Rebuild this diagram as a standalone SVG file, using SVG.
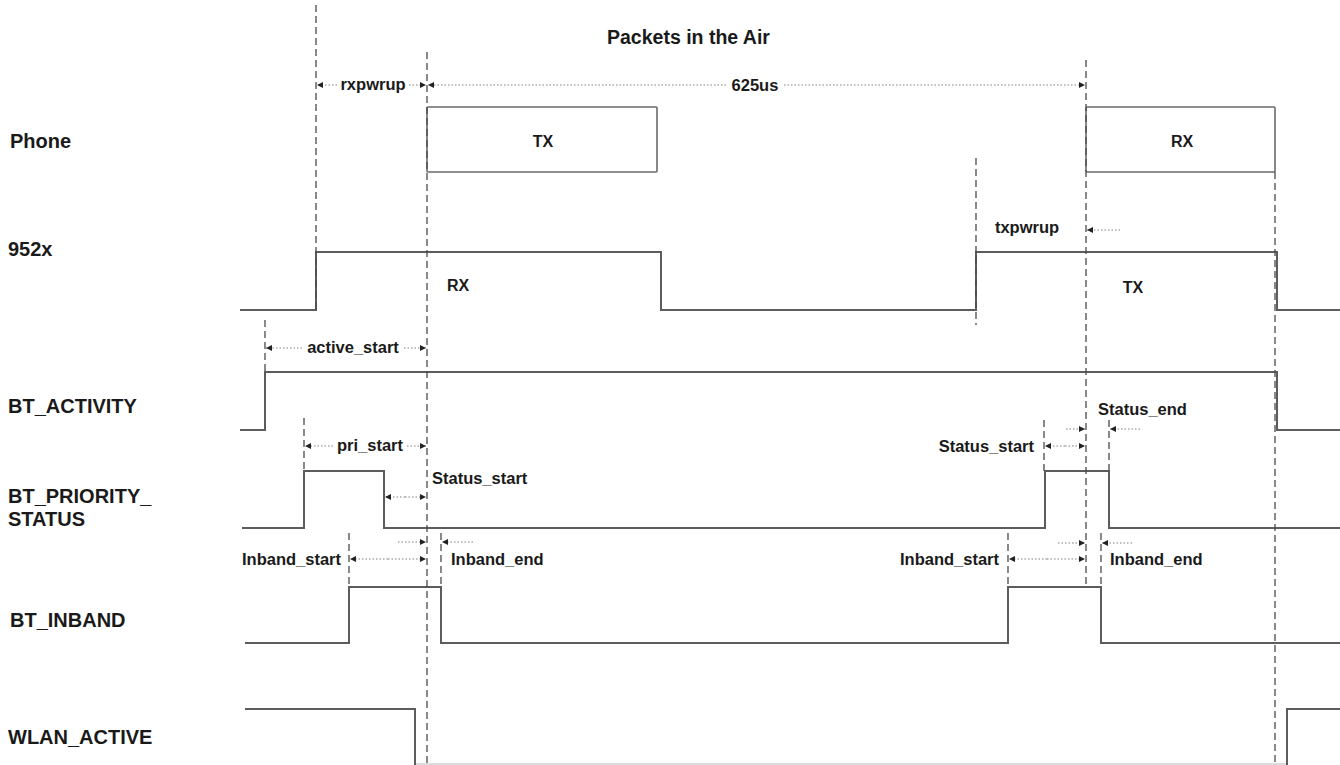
<svg xmlns="http://www.w3.org/2000/svg" width="1340" height="765" viewBox="0 0 1340 765">
<style>
  .bg{fill:#ffffff}
  .lbl{font-family:"Liberation Sans",Arial,sans-serif;font-weight:bold;font-size:20px;fill:#1a1a1a}
  .ttl{font-family:"Liberation Sans",Arial,sans-serif;font-weight:bold;font-size:19.5px;fill:#1a1a1a}
  .mid{font-family:"Liberation Sans",Arial,sans-serif;font-weight:bold;font-size:16.5px;fill:#1a1a1a}
  .box{font-family:"Liberation Sans",Arial,sans-serif;font-weight:bold;font-size:16px;fill:#1a1a1a}
  .sig{fill:none;stroke:#5c5c5c;stroke-width:2}
  .faint{fill:none;stroke:#d0d0d0;stroke-width:1.5}
  .pkt{fill:#ffffff;stroke:#6a6a6a;stroke-width:1.6}
  .dash{fill:none;stroke:#4a4a4a;stroke-width:1.3;stroke-dasharray:7,4}
  .dot{fill:none;stroke:#808080;stroke-width:1.1;stroke-dasharray:1.5,2;marker-end:url(#ah)}
</style>
<defs>
  <marker id="ah" markerUnits="userSpaceOnUse" markerWidth="7" markerHeight="6" refX="6" refY="3" orient="auto">
    <path d="M0,0 L6,3 L0,6 z" fill="#222"/>
  </marker>
</defs>
<rect class="bg" x="0" y="0" width="1340" height="765"/>

<text class="ttl" x="607" y="44">Packets in the Air</text>

<g id="phone">
  <text class="lbl" x="10" y="148">Phone</text>
  <rect class="pkt" x="427" y="107" width="230" height="65" rx="1"/>
  <text class="box" x="543" y="147" text-anchor="middle">TX</text>
  <rect class="pkt" x="1086" y="107" width="189" height="65" rx="1"/>
  <text class="box" x="1182" y="147" text-anchor="middle">RX</text>
</g>

<g id="sig-952x">
  <text class="lbl" x="8" y="256">952x</text>
  <path class="sig" d="M240,310 H316 V252 H661 V310 H976 V252 H1277 V310 H1340"/>
  <text class="box" x="458" y="291" text-anchor="middle">RX</text>
  <text class="box" x="1133" y="293" text-anchor="middle">TX</text>
</g>

<g id="bt-activity">
  <text class="lbl" x="8" y="413">BT_ACTIVITY</text>
  <path class="sig" d="M240,430 H265 V372 H1277 V430 H1340"/>
</g>

<g id="bt-priority-status">
  <text class="lbl" x="8" y="503">BT_PRIORITY_</text>
  <text class="lbl" x="8" y="526">STATUS</text>
  <path class="sig" d="M242,528 H304 V471 H384 V528 H1045 V471 H1109 V528 H1340"/>
</g>

<g id="bt-inband">
  <text class="lbl" x="10" y="627">BT_INBAND</text>
  <path class="sig" d="M245,643 H349 V587 H441 V643 H1008 V587 H1101 V643 H1340"/>
</g>

<g id="wlan-active">
  <text class="lbl" x="8" y="744">WLAN_ACTIVE</text>
  <path class="faint" d="M415,764 H1287"/>
  <path class="sig" d="M245,709 H415 V765"/>
  <path class="sig" d="M1287,765 V709 H1340"/>
</g>

<g id="connectors">
  <!-- dashed time markers -->
  <line class="dash" x1="316" y1="5" x2="316" y2="310"/>
  <line class="dash" x1="427" y1="52" x2="427" y2="765"/>
  <line class="dash" x1="265" y1="320" x2="265" y2="372"/>
  <line class="dash" x1="304" y1="418" x2="304" y2="471"/>
  <line class="dash" x1="349" y1="533" x2="349" y2="587"/>
  <line class="dash" x1="441" y1="533" x2="441" y2="587"/>
  <line class="dash" x1="1086" y1="60" x2="1086" y2="588"/>
  <line class="dash" x1="976" y1="158" x2="976" y2="325"/>
  <line class="dash" x1="1275" y1="172" x2="1275" y2="765"/>
  <line class="dash" x1="1044" y1="420" x2="1044" y2="471"/>
  <line class="dash" x1="1109" y1="420" x2="1109" y2="471"/>
  <line class="dash" x1="1008" y1="533" x2="1008" y2="587"/>
  <line class="dash" x1="1101" y1="533" x2="1101" y2="587"/>

  <!-- rxpwrup -->
  <line class="dot" x1="337" y1="85" x2="317" y2="85"/>
  <line class="dot" x1="409" y1="85" x2="426" y2="85"/>
  <text class="mid" x="373" y="90" text-anchor="middle">rxpwrup</text>
  <!-- 625us -->
  <line class="dot" x1="726" y1="85" x2="428" y2="85"/>
  <line class="dot" x1="784" y1="85" x2="1085" y2="85"/>
  <text class="mid" x="755" y="91" text-anchor="middle">625us</text>
  <!-- txpwrup -->
  <text class="mid" x="1027" y="233" text-anchor="middle">txpwrup</text>
  <line class="dot" x1="1120" y1="230" x2="1087" y2="230"/>
  <!-- active_start -->
  <line class="dot" x1="302" y1="348" x2="266" y2="348"/>
  <line class="dot" x1="404" y1="348" x2="426" y2="348"/>
  <text class="mid" x="353" y="353" text-anchor="middle">active_start</text>
  <!-- pri_start -->
  <line class="dot" x1="333" y1="446" x2="305" y2="446"/>
  <line class="dot" x1="407" y1="446" x2="426" y2="446"/>
  <text class="mid" x="370" y="451" text-anchor="middle">pri_start</text>
  <!-- left status_start -->
  <line class="dot" x1="405" y1="497" x2="385" y2="497"/>
  <line class="dot" x1="405" y1="497" x2="426" y2="497"/>
  <text class="mid" x="432" y="484">Status_start</text>
  <!-- left inband -->
  <line class="dot" x1="398" y1="542" x2="426" y2="542"/>
  <line class="dot" x1="473" y1="542" x2="442" y2="542"/>
  <line class="dot" x1="388" y1="559" x2="350" y2="559"/>
  <line class="dot" x1="388" y1="559" x2="426" y2="559"/>
  <text class="mid" x="341" y="565" text-anchor="end">Inband_start</text>
  <text class="mid" x="451" y="565">Inband_end</text>
  <!-- right status -->
  <text class="mid" x="1098" y="415">Status_end</text>
  <line class="dot" x1="1066" y1="429" x2="1085" y2="429"/>
  <line class="dot" x1="1140" y1="429" x2="1110" y2="429"/>
  <line class="dot" x1="1065" y1="446" x2="1045" y2="446"/>
  <line class="dot" x1="1065" y1="446" x2="1085" y2="446"/>
  <text class="mid" x="1034" y="452" text-anchor="end">Status_start</text>
  <!-- right inband -->
  <line class="dot" x1="1058" y1="543" x2="1085" y2="543"/>
  <line class="dot" x1="1132" y1="543" x2="1102" y2="543"/>
  <line class="dot" x1="1047" y1="559" x2="1009" y2="559"/>
  <line class="dot" x1="1047" y1="559" x2="1085" y2="559"/>
  <text class="mid" x="999" y="565" text-anchor="end">Inband_start</text>
  <text class="mid" x="1110" y="565">Inband_end</text>
</g>
</svg>
